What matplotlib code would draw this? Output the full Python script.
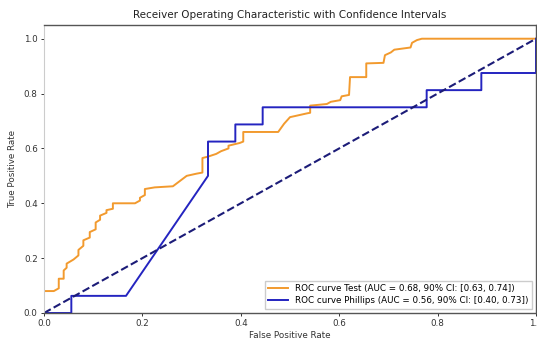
import matplotlib
matplotlib.use("Agg")
import matplotlib.pyplot as plt

# ROC curve of the test (false positive rate, true positive rate)
fpr_test = [0.0, 0.02, 0.03, 0.03, 0.04, 0.04, 0.046, 0.046, 0.06, 0.07, 0.07,
            0.08, 0.08, 0.093, 0.093, 0.105, 0.105, 0.114, 0.114, 0.127, 0.127,
            0.14, 0.14, 0.185, 0.195, 0.195, 0.205, 0.205, 0.225, 0.262, 0.29,
            0.31, 0.322, 0.322, 0.333, 0.35, 0.36, 0.375, 0.375, 0.398, 0.405,
            0.405, 0.476, 0.488, 0.5, 0.535, 0.541, 0.541, 0.575, 0.583, 0.602,
            0.605, 0.62, 0.622, 0.655, 0.655, 0.69, 0.693, 0.705, 0.712, 0.745,
            0.748, 0.758, 0.768, 1.0]
tpr_test = [0.08, 0.08, 0.09, 0.125, 0.125, 0.155, 0.165, 0.18, 0.195, 0.21, 0.23,
            0.245, 0.265, 0.275, 0.295, 0.305, 0.33, 0.34, 0.355, 0.365, 0.375,
            0.38, 0.40, 0.40, 0.41, 0.42, 0.43, 0.452, 0.458, 0.462, 0.50,
            0.508, 0.512, 0.565, 0.57, 0.58, 0.59, 0.60, 0.61, 0.62, 0.625,
            0.66, 0.66, 0.69, 0.714, 0.728, 0.73, 0.756, 0.762, 0.77, 0.776,
            0.79, 0.795, 0.86, 0.86, 0.91, 0.912, 0.94, 0.95, 0.96, 0.968,
            0.985, 0.995, 1.0, 1.0]

# ROC curve of the Phillips score (18 negatives, 16 positives)
fpr_phillips = [0.0, 1/18, 1/18, 3/18, 6/18, 6/18, 7/18, 7/18, 8/18, 8/18,
                14/18, 14/18, 16/18, 16/18, 1.0, 1.0]
tpr_phillips = [0.0, 0.0, 1/16, 1/16, 8/16, 10/16, 10/16, 11/16, 11/16, 12/16,
                12/16, 13/16, 13/16, 14/16, 14/16, 1.0]

label_test = "ROC curve Test (AUC = 0.68, 90% CI: [0.63, 0.74])"
label_phillips = "ROC curve Phillips (AUC = 0.56, 90% CI: [0.40, 0.73])"

fig = plt.figure(figsize=(5.37, 3.42), dpi=100)
ax = fig.add_axes([44/537, 29/342, 492/537, 288/342])

ax.plot(fpr_test, tpr_test, color="#f29a2e", lw=1.4, label=label_test)
ax.plot(fpr_phillips, tpr_phillips, color="#2424c0", lw=1.4, label=label_phillips)
ax.plot([0, 1], [0, 1], color="#1c1c78", lw=1.5, linestyle="--")

ax.set_xlim([0.0, 1.0])
ax.set_ylim([0.0, 1.05])
ax.set_xlabel("False Positive Rate", fontsize=6.3, labelpad=2, color="#333333")
ax.set_ylabel("True Positive Rate", fontsize=6.3, labelpad=5, color="#333333")
ax.set_title("Receiver Operating Characteristic with Confidence Intervals",
             fontsize=7.5, pad=5, color="#222222")
ax.tick_params(labelsize=6.3, length=2.5, width=0.7, pad=2, colors="#333333")

for side in ["top", "bottom", "right"]:
    ax.spines[side].set_color("#555555")
    ax.spines[side].set_linewidth(1.0)
ax.spines["left"].set_color("#cccccc")
ax.spines["left"].set_linewidth(0.8)

leg = ax.legend(loc="lower right", fontsize=6.3, handlelength=2.2,
                borderpad=0.4, labelspacing=0.3, fancybox=False,
                framealpha=1.0, edgecolor="#cccccc")

plt.savefig("out.png", dpi=100)
